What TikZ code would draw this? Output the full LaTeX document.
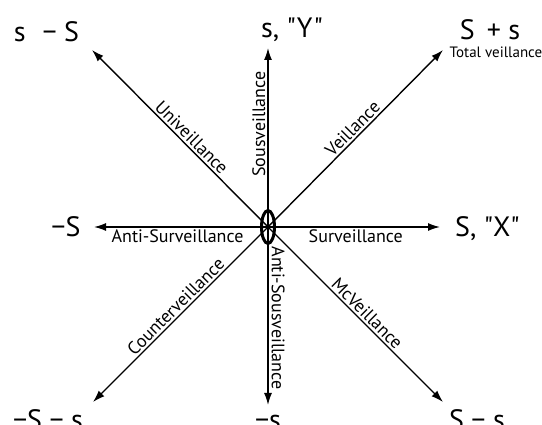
\documentclass[tikz,border=0pt]{standalone}
\usepackage{fontspec}
\newfontfamily\labfont{PT Sans}
\usetikzlibrary{arrows.meta,shapes.geometric}
\tikzset{
  axis/.style={line width=1.4pt,-{Latex[length=12pt,width=8pt]}},
  big/.style={font=\labfont\fontsize{28}{30}\selectfont, inner sep=0pt, anchor=base},
  lab/.style={font=\labfont\fontsize{18}{20}\selectfont, inner sep=2.5pt},
}
\begin{document}
\begin{tikzpicture}[x=1pt,y=-1pt]
\useasboundingbox (0,0) rectangle (542,425);
\coordinate (c) at (268,227);
\coordinate (n) at (268,48);
\coordinate (e) at (440,227);
\coordinate (w) at (94,227);
\coordinate (s) at (268,405);
\coordinate (nw) at (92,50);
\coordinate (ne) at (443,50);
\coordinate (sw) at (93,402);
\coordinate (se) at (443,402);
\foreach \t in {n,e,w,s,nw,ne,sw,se} \draw[axis] (c) -- (\t);
\node[draw, line width=3pt, ellipse, minimum width=13pt, minimum height=33pt, inner sep=0pt] (o) at (c) {};
% end labels
\node[big] (lnw) at (46.5,42) {s\,\, − S};
\node[big] (ln) at (292,38) {s, "Y"};
\node[big] (lne) at (490,40) {S \,+ s};
\node[big, font=\labfont\fontsize{15}{16}\selectfont] (tv) at (496,58) {Total veillance};
\node[big] (lw) at (66,237) {−S};
\node[big] (le) at (487.5,237) {S, "X"};
\node[big] (lsw) at (48,430) {−S − s};
\node[big] (ls) at (268,430) {−s};
\node[big] (lse) at (477,430) {S − s};
% edge labels
\path (nw) -- (c) node[lab, sloped, above, pos=0.53] (u) {Univeillance};
\path (c) -- (n) node[lab, sloped, above, pos=0.575] (sv) {Sousveillance};
\path (c) -- (ne) node[lab, sloped, above, pos=0.52] (v) {Veillance};
\path (w) -- (c) node[lab, below, pos=0.48] (as) {Anti-Surveillance};
\path (c) -- (e) node[lab, below, pos=0.51] (sur) {Surveillance};
\path (sw) -- (c) node[lab, sloped, above, pos=0.51] (cv) {Counterveillance};
\node[lab, rotate=-90, anchor=south] (asv) at (269,318) {Anti-Sousveillance};
\path (c) -- (se) node[lab, sloped, above, pos=0.53] (mc) {McVeillance};
\end{tikzpicture}
\end{document}
